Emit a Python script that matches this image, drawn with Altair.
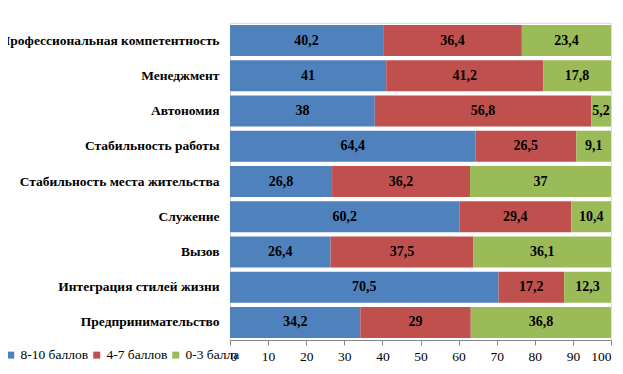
import altair as alt
import pandas as pd

categories = [
    "Профессиональная компетентность",
    "Менеджмент",
    "Автономия",
    "Стабильность работы",
    "Стабильность места жительства",
    "Служение",
    "Вызов",
    "Интеграция стилей жизни",
    "Предпринимательство",
]
high = [40.2, 41, 38, 64.4, 26.8, 60.2, 26.4, 70.5, 34.2]
mid = [36.4, 41.2, 56.8, 26.5, 36.2, 29.4, 37.5, 17.2, 29]
low = [23.4, 17.8, 5.2, 9.1, 37, 10.4, 36.1, 12.3, 36.8]
series = ["8-10 баллов", "4-7 баллов", "0-3 балла"]
colors = ["#4F81BD", "#C0504D", "#9BBB59"]
x_ticks = [0, 10, 20, 30, 40, 50, 60, 70, 80, 90, 100]

rows = []
for i, c in enumerate(categories):
    for k, (s, vals) in enumerate(zip(series, [high, mid, low])):
        rows.append({"cat": c, "series": s, "order": k, "value": vals[i]})
df = pd.DataFrame(rows)

FONT = "Liberation Serif"

base = (
    alt.Chart(df)
    .transform_stack(stack="value", groupby=["cat"], sort=[alt.SortField("order")], as_=["x0", "x1"])
    .transform_calculate(
        xm="(datum.x0 + datum.x1) / 2",
        label="replace(toString(datum.value), '.', ',')",
    )
)

x_axis = alt.Axis(
    values=x_ticks,
    grid=False,
    domainColor="#868686",
    tickColor="#868686",
    tickSize=5,
    labelFont=FONT,
    labelFontSize=13.5,
    labelColor="black",
    labelPadding=4,
    labelOverlap=False,
)
x_scale = alt.Scale(domain=[0, 100], nice=False)

y_axis = alt.Axis(
    domain=False,
    ticks=False,
    labelFont=FONT,
    labelFontSize=13.5,
    labelFontWeight="bold",
    labelColor="black",
    labelPadding=11,
    labelLimit=260,
)
y_scale = alt.Scale(paddingInner=0.12, paddingOuter=0.06)

bars = base.mark_bar().encode(
    x=alt.X("x0:Q", title=None, scale=x_scale, axis=x_axis),
    x2="x1:Q",
    y=alt.Y("cat:N", sort=categories, title=None, scale=y_scale, axis=y_axis),
    color=alt.Color(
        "series:N",
        scale=alt.Scale(domain=series, range=colors),
        sort=series,
        legend=alt.Legend(
            title=None,
            orient="none",
            direction="horizontal",
            legendX=-226,
            legendY=325,
            padding=0,
            symbolType="square",
            symbolSize=49,
            symbolStrokeWidth=0,
            symbolOpacity=1,
            labelFont=FONT,
            labelFontSize=13.5,
            labelColor="black",
            labelOffset=3,
            columnPadding=1,
        ),
    ),
    order=alt.Order("order:Q"),
)

texts = base.mark_text(
    font=FONT, fontSize=14, fontWeight="bold", color="black", baseline="middle", align="center"
).encode(
    x=alt.X("xm:Q", title=None, scale=x_scale, axis=x_axis),
    y=alt.Y("cat:N", sort=categories, title=None, scale=y_scale, axis=y_axis),
    text="label:N",
)

chart = (
    alt.layer(bars, texts)
    .properties(
        width=381,
        height=317,
        autosize=alt.AutoSizeParams(type="none"),
        padding={"left": 222, "top": 15, "right": 4, "bottom": 26},
    )
    .configure_view(stroke=None)
    .configure(font=FONT)
    .configure_axis(labelFont=FONT, labelOverlap=False)
    .configure_legend(labelFont=FONT)
    .configure_text(font=FONT)
)

chart.save("out.html", embed_options={"renderer": "svg", "actions": False})
